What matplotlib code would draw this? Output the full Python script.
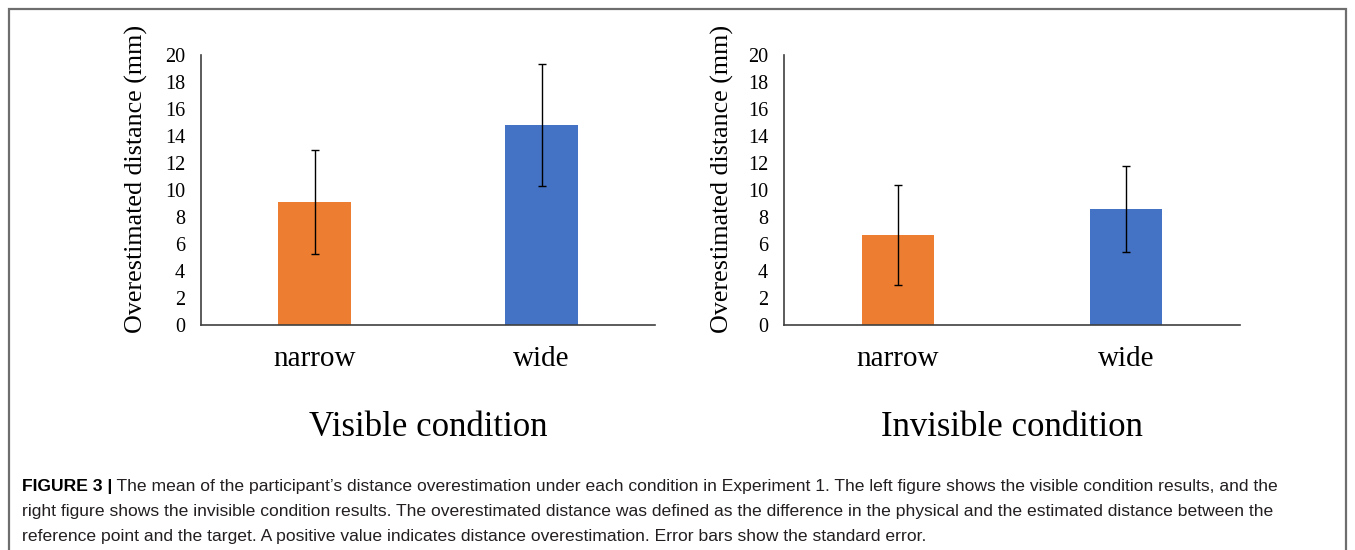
import numpy as np
import matplotlib
matplotlib.use("Agg")
import matplotlib.pyplot as plt
from matplotlib.patches import Rectangle

# values
categories = ["narrow", "wide"]
visible_mean = [9.1, 14.8]
visible_se = [3.85, 4.5]
invisible_mean = [6.7, 8.6]
invisible_se = [3.7, 3.2]
yticks = np.arange(0, 22, 2)
panel_titles = ["Visible condition", "Invisible condition"]
ylabel = "Overestimated distance (mm)"
caption_bold = "FIGURE 3 |"
caption_lines = [
    " The mean of the participant\u2019s distance overestimation under each condition in Experiment 1. The left figure shows the visible condition results, and the",
    "right figure shows the invisible condition results. The overestimated distance was defined as the difference in the physical and the estimated distance between the",
    "reference point and the target. A positive value indicates distance overestimation. Error bars show the standard error.",
]

bar_colors = ["#ED7D31", "#4472C4"]
serif = ["Liberation Serif", "DejaVu Serif"]
W, H = 1355, 550

fig = plt.figure(figsize=(W / 100, H / 100), dpi=100)

# outer frame (top, left, right edges)
fig.patches.append(Rectangle((9 / W, -0.1), (1346 - 9) / W, 0.1 + (H - 8.5) / H,
                             transform=fig.transFigure, fill=False,
                             edgecolor="#6e6e6e", linewidth=1.6))

panels = [
    (201, 655, visible_mean, visible_se, panel_titles[0], -0.117),
    (784, 1240, invisible_mean, invisible_se, panel_titles[1], -0.110),
]
x = np.arange(len(categories))

for x0, x1, means, ses, title, lab_x in panels:
    ax = fig.add_axes([x0 / W, (H - 325) / H, (x1 - x0) / W, 270 / H])
    ax.bar(x, means, width=0.32, color=bar_colors, zorder=2)
    ax.errorbar(x, means, yerr=ses, fmt="none", ecolor="black",
                elinewidth=1.0, capsize=3, capthick=1.0, zorder=3)
    ax.set_xlim(-0.5, 1.5)
    ax.set_ylim(0, 20)
    ax.set_yticks(yticks)
    ax.set_yticklabels([str(t) for t in yticks], family=serif, fontsize=14.5)
    ax.set_xticks(x)
    ax.set_xticklabels(categories, family=serif, fontsize=21)
    ax.tick_params(axis="y", length=0, pad=11.5)
    ax.tick_params(axis="x", length=0, pad=15)
    for s in ["top", "right"]:
        ax.spines[s].set_visible(False)
    for s in ["left", "bottom"]:
        ax.spines[s].set_color("#404040")
        ax.spines[s].set_linewidth(1.2)
    ax.set_ylabel(ylabel, family=serif, fontsize=18.7)
    ax.yaxis.set_label_coords(lab_x, 0.54)
    fig.text((x0 + x1) / 2 / W, (H - 427) / H, title, family=serif,
             fontsize=25, ha="center", va="center")

# caption
sans = ["Liberation Sans", "DejaVu Sans"]
cap_size = 12.6
cap_x = 22 / W
baselines = [491, 516, 541]
renderer = fig.canvas.get_renderer()
tb = fig.text(cap_x, (H - baselines[0]) / H, caption_bold, family=sans,
              fontsize=cap_size, weight="bold", color="black", va="baseline")
bw = tb.get_window_extent(renderer).width
for i, line in enumerate(caption_lines):
    lx = cap_x + (bw / W if i == 0 else 0)
    fig.text(lx, (H - baselines[i]) / H, line, family=sans, fontsize=cap_size,
             color="#231f20", va="baseline")

fig.savefig("out.png", dpi=100)
